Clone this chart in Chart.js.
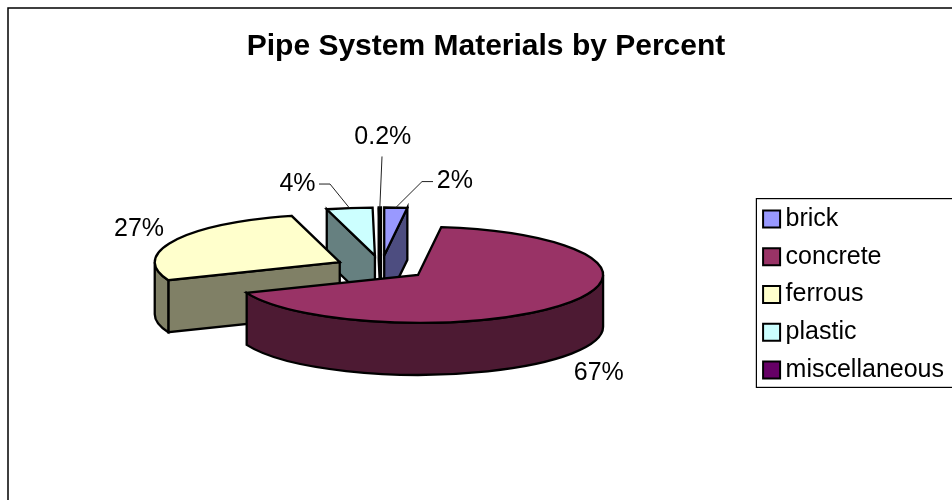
<!DOCTYPE html>
<html lang="en">
<head>
<meta charset="UTF-8">
<title>Pipe System Materials by Percent</title>
<script src="https://cdn.jsdelivr.net/npm/chart.js@4/dist/chart.umd.min.js"></script>
<style>
  html, body { margin: 0; padding: 0; background: #fff; overflow: hidden; width: 952px; height: 500px; }
  canvas { display: block; }
</style>
</head>
<body>
<canvas id="chart" width="954" height="500"></canvas>
<script>
const TITLE = 'Pipe System Materials by Percent';
const MATERIALS = ['brick', 'concrete', 'ferrous', 'plastic', 'miscellaneous'];
const PERCENTS = [2, 67, 27, 4, 0.2];
const PERCENT_LABELS = ['2%', '67%', '27%', '4%', '0.2%'];
const TOP_COLORS = ['#9999FF', '#993366', '#FFFFCC', '#CCFFFF', '#660066'];
const SIDE_COLORS = ['#4D4D80', '#4D1A33', '#808066', '#668080', '#330033'];

// Pie projection
const FONT = '"Liberation Sans", Arial, sans-serif';
const PIE_X = 381.3;
const PIE_Y = 267.5;
const PIE_RADIUS = 185;
const SQUASH = 48 / 185;
const EXPLODE = 46.4;
const DEPTH = 52;

// Label placement relative to the middle of each slice's rim; leader = draw a connector
const LABEL_OFFSETS = [
  { dx: 59, dy: -26, leader: [433, 422] },
  { dx: 34, dy: 69 },
  { dx: -35, dy: -12 },
  { dx: -52, dy: -24, leader: [319, 330] },
  { dx: 3, dy: -70, leader: [382] },
];

function sliceOrigin(arc) {
  const mid = (arc.startAngle + arc.endAngle) / 2;
  return {
    x: PIE_X + Math.cos(mid) * EXPLODE,
    y: PIE_Y + Math.sin(mid) * EXPLODE * SQUASH,
  };
}

function drawWalls(ctx, arc, side) {
  const o = sliceOrigin(arc);
  const r = arc.outerRadius;
  const ry = r * SQUASH;
  ctx.fillStyle = side;

  const radialWall = (angle) => {
    const ex = o.x + Math.cos(angle) * r;
    const ey = o.y + Math.sin(angle) * ry;
    ctx.beginPath();
    ctx.moveTo(o.x, o.y);
    ctx.lineTo(ex, ey);
    ctx.lineTo(ex, ey + DEPTH);
    ctx.lineTo(o.x, o.y + DEPTH);
    ctx.closePath();
    ctx.fill();
    ctx.stroke();
  };
  if (Math.cos(arc.startAngle) < -1e-6) radialWall(arc.startAngle);
  if (Math.cos(arc.endAngle) > 1e-6) radialWall(arc.endAngle);

  // rim, only the part facing the viewer
  const from = Math.max(arc.startAngle, 0);
  const to = Math.min(arc.endAngle, Math.PI);
  if (to > from) {
    ctx.beginPath();
    ctx.ellipse(o.x, o.y, r, ry, 0, from, to);
    ctx.ellipse(o.x, o.y + DEPTH, r, ry, 0, to, from, true);
    ctx.closePath();
    ctx.fill();
    ctx.stroke();
  }
}

function drawTop(ctx, arc) {
  const o = sliceOrigin(arc);
  ctx.save();
  ctx.translate(o.x, o.y);
  ctx.scale(1, SQUASH);
  ctx.translate(-arc.x, -arc.y);
  arc.draw(ctx);
  ctx.restore();

  ctx.beginPath();
  ctx.moveTo(o.x, o.y);
  ctx.ellipse(o.x, o.y, arc.outerRadius, arc.outerRadius * SQUASH, 0, arc.startAngle, arc.endAngle);
  ctx.closePath();
  ctx.stroke();
}

function drawLabels(ctx, arcs) {
  ctx.font = '25px ' + FONT;
  ctx.textAlign = 'center';
  ctx.textBaseline = 'middle';
  arcs.forEach((arc, i) => {
    const mid = (arc.startAngle + arc.endAngle) / 2;
    const o = sliceOrigin(arc);
    const ax = o.x + Math.cos(mid) * arc.outerRadius;
    const ay = o.y + Math.sin(mid) * arc.outerRadius * SQUASH;
    const place = LABEL_OFFSETS[i];
    const tx = ax + place.dx;
    const ty = ay + place.dy;

    if (place.leader) {
      ctx.strokeStyle = '#222';
      ctx.lineWidth = 1;
      ctx.beginPath();
      ctx.moveTo(place.leader[0], place.leader.length > 1 ? ty : ty + 19);
      if (place.leader.length > 1) ctx.lineTo(place.leader[1], ty);
      ctx.lineTo(ax, ay);
      ctx.stroke();
    }
    ctx.fillStyle = '#000';
    ctx.fillText(PERCENT_LABELS[i], tx, ty);
  });
}

const exploded3dPie = {
  id: 'exploded3dPie',
  beforeDraw(chart) {
    const { ctx } = chart;
    ctx.save();
    ctx.strokeStyle = '#000';
    ctx.lineWidth = 1.5;
    ctx.strokeRect(8, 8, chart.width + 20, chart.height + 20);

    // legend frame runs off the right edge
    const boxes = chart.legend.legendHitBoxes;
    const top = boxes[0].top - 8;
    const bottom = boxes[boxes.length - 1].top + boxes[boxes.length - 1].height + 5;
    ctx.lineWidth = 1.2;
    ctx.strokeRect(chart.legend.left - 1, top, chart.width, bottom - top);
    ctx.restore();
  },
  beforeDatasetsDraw(chart) {
    const { ctx } = chart;
    const arcs = chart.getDatasetMeta(0).data;
    const backToFront = arcs
      .map((arc, i) => ({ arc, i }))
      .sort((a, b) =>
        Math.sin((a.arc.startAngle + a.arc.endAngle) / 2) -
        Math.sin((b.arc.startAngle + b.arc.endAngle) / 2));

    ctx.save();
    ctx.strokeStyle = '#000';
    ctx.lineWidth = 2.3;
    ctx.lineJoin = 'miter';
    for (const { arc, i } of backToFront) {
      drawWalls(ctx, arc, SIDE_COLORS[i]);
      drawTop(ctx, arc);
    }
    drawLabels(ctx, arcs);
    ctx.restore();
    return false;
  },
};

new Chart(document.getElementById('chart'), {
  type: 'pie',
  plugins: [exploded3dPie],
  data: {
    labels: MATERIALS,
    datasets: [{
      data: PERCENTS,
      backgroundColor: TOP_COLORS,
      borderWidth: 0,
      radius: PIE_RADIUS,
    }],
  },
  options: {
    responsive: false,
    animation: false,
    events: [],
    layout: { padding: { left: 18 } },
    plugins: {
      tooltip: { enabled: false },
      title: {
        display: true,
        text: TITLE,
        color: '#000',
        font: { family: FONT, size: 30, weight: 'bold' },
        padding: { top: 29, bottom: 24 },
      },
      legend: {
        position: 'right',
        fullSize: false,
        labels: {
          color: '#000',
          font: { family: FONT, size: 25 },
          usePointStyle: true,
          pointStyle: 'rect',
          boxWidth: 3,
          boxHeight: 17,
          padding: 12.7,
          generateLabels: () => MATERIALS.map((text, i) => ({
            text,
            index: i,
            fillStyle: TOP_COLORS[i],
            strokeStyle: '#000',
            lineWidth: 2,
            pointStyle: 'rect',
          })),
        },
      },
    },
  },
});
</script>
</body>
</html>
